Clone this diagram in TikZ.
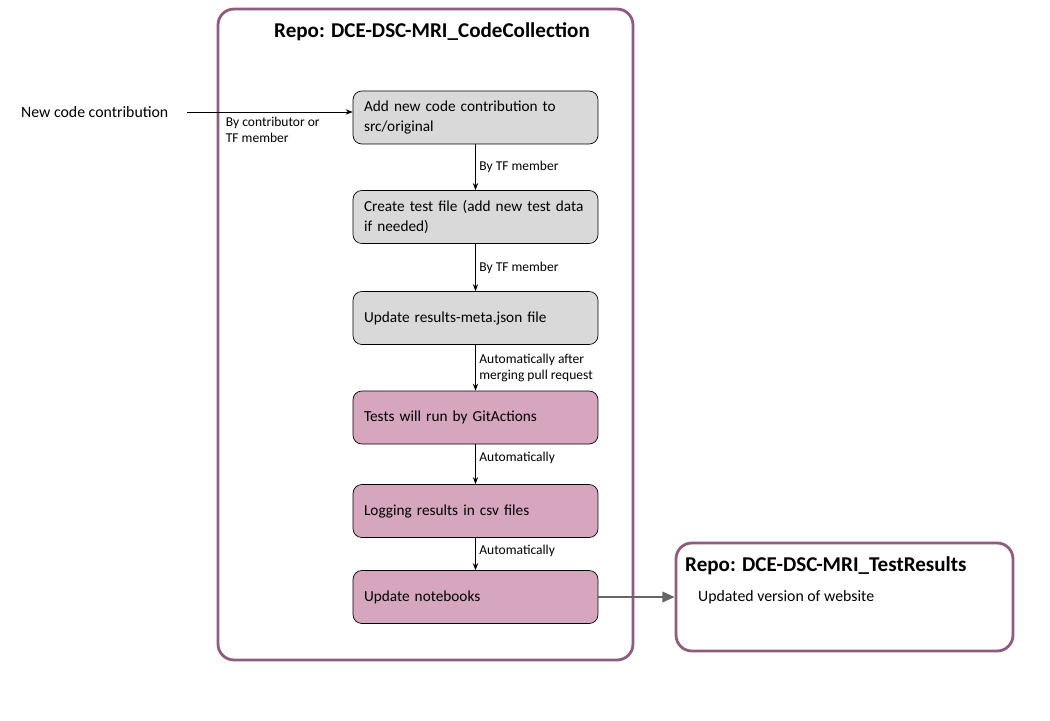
\documentclass[tikz,border=0pt]{standalone}
\usepackage{fontspec}
\setmainfont{Carlito}
\usetikzlibrary{arrows.meta}
\definecolor{stepgray}{HTML}{D9D9D9}
\definecolor{steppink}{HTML}{D5A6BD}
\definecolor{repoline}{HTML}{8E5C7E}
\definecolor{linkgray}{HTML}{666666}

\begin{document}
\begin{tikzpicture}[x=0.02cm,y=-0.02cm,
  stepbox/.style={draw,rounded corners=5pt,thin,minimum width=4.9cm,minimum height=1.06cm,
    inner xsep=0.22cm,text width=4.46cm,align=left,font=\fontsize{8.7}{11.3}\selectfont},
  repobox/.style={draw=repoline,line width=1.6pt,rounded corners=9pt,inner sep=0pt},
  repotitle/.style={font=\bfseries\fontsize{12}{14}\selectfont},
  steplabel/.style={anchor=west,align=left,inner sep=2pt,font=\fontsize{7.7}{9}\selectfont},
  flow/.style={->,>={Stealth[length=4pt,width=3pt]},thin}]
\useasboundingbox (0,0) rectangle (1050,720);
% repositories
\node[repobox,minimum width=8.3cm,minimum height=13.02cm] (cc) at (425.5,334.5) {};
\node[repotitle] (cctitle) at (432,32) {Repo: DCE-DSC-MRI\_CodeCollection};
\node[repobox,minimum width=6.74cm,minimum height=2.16cm] (tr) at (844.5,597) {};
\node[repotitle,anchor=west] (trtitle) at (679,566) {Repo: DCE-DSC-MRI\_TestResults};
\node[anchor=west,font=\fontsize{9}{11}\selectfont] (website) at (692,597) {Updated version of website};
% steps
\node[stepbox,fill=stepgray] (s1) at (475.5,117.5) {Add new code contribution to src/original};
\node[stepbox,fill=stepgray] (s2) at (475.5,217) {Create test file (add new test data if needed)};
\node[stepbox,fill=stepgray] (s3) at (475.5,318) {Update results-meta.json file};
\node[stepbox,fill=steppink] (s4) at (475.5,417.5) {Tests will run by GitActions};
\node[stepbox,fill=steppink] (s5) at (475.5,511) {Logging results in csv files};
\node[stepbox,fill=steppink] (s6) at (475.5,597) {Update notebooks};
% input
\node[anchor=west,font=\fontsize{9}{11}\selectfont] (newcode) at (15,112) {New code contribution};
\node[steplabel,anchor=north west] (bycontrib) at (222,113) {By contributor or\\TF member};
\draw[flow] ([xshift=0.26cm]newcode.east) -- (s1.west |- newcode.east);
\draw[flow] (s1) -- (s2) node[steplabel,midway] {By TF member};
\draw[flow] (s2) -- (s3) node[steplabel,midway] {By TF member};
\draw[flow] (s3) -- (s4) node[steplabel,midway] {Automatically after\\merging pull request};
\draw[flow] (s4) -- (s5) node[steplabel,pos=0.35] {Automatically};
\draw[flow] (s5) -- (s6) node[steplabel,pos=0.4] {Automatically};
\draw[->,>={Triangle[length=7pt,width=6pt]},linkgray,line width=1.1pt] (s6) -- (tr);
\end{tikzpicture}
\end{document}
